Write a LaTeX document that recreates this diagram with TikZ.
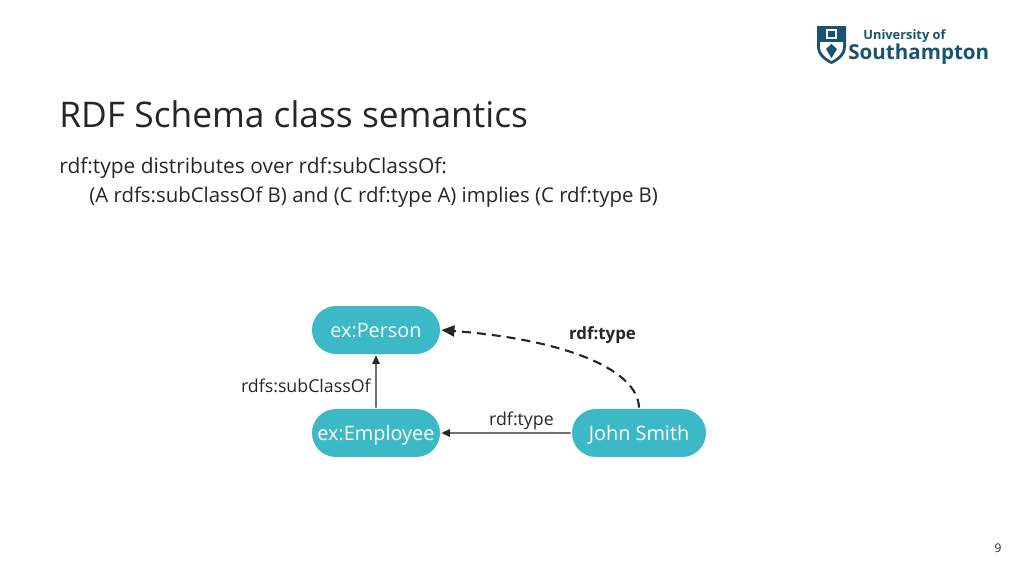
\documentclass[tikz,border=0pt]{standalone}
\usepackage{fontspec}
\setmainfont{Open Sans}
\usetikzlibrary{arrows.meta, positioning, shapes.misc}
\definecolor{nodeteal}{HTML}{3CB9C6}
\definecolor{inkgrey}{HTML}{262626}
\definecolor{sotonblue}{HTML}{1A5370}
\tikzset{
	>={Triangle[length=.085cm,width=.075cm]},
	boldhead/.style={>={Triangle[length=.13cm,width=.11cm]}},
	classnode/.style={rounded rectangle, fill=nodeteal, text=white, inner sep=0pt, minimum height=.48cm, text height=.18cm, text depth=.04cm, font=\fontsize{5.65}{6.5}\selectfont},
	edgelabel/.style={text=inkgrey, inner sep=0pt, font=\fontsize{5.05}{6}\selectfont},
	plaintext/.style={text=inkgrey, inner sep=0pt, anchor=base west}
}
\begin{document}
\begin{tikzpicture}[thick]

		\useasboundingbox (0,0) rectangle (10.24,5.76);
		\fill[white] (0,0) rectangle (10.24,5.76);

		\node[plaintext, font=\fontsize{10.05}{12}\selectfont] (title) at (.58,4.49) {RDF Schema class semantics};
		\node[plaintext, font=\fontsize{5.95}{7}\selectfont] (line1) at (.58,4.03) {rdf:type distributes over rdf:subClassOf:};
		\node[plaintext, font=\fontsize{5.8}{7}\selectfont] (line2) at (.88,3.74) {(A rdfs:subClassOf B) and (C rdf:type A) implies (C rdf:type B)};

		\node[classnode, minimum width=1.28cm] (person) at (3.76,2.46) {ex:Person};
		\node[classnode, minimum width=1.28cm] (employee) at (3.76,1.43) {ex:Employee};
		\node[classnode, minimum width=1.34cm] (john) at (6.39,1.43) {John Smith};

		\draw [->, inkgrey, line width=.4pt] (employee)--(person);
		\draw [->, inkgrey, line width=.4pt] (john)--(employee);
		\draw [->, boldhead, inkgrey, line width=.6pt, dash pattern=on .09cm off .06cm] (john.north) .. controls (6.38,2.05) and (5.7,2.36) .. (person.east);

		\node[edgelabel, anchor=east] (sublabel) at (3.72,1.905) {rdfs:subClassOf};
		\node[edgelabel] (typelabel) at (5.215,1.555) {rdf:type};
		\node[edgelabel, font=\fontsize{4.8}{5.5}\selectfont\bfseries] (inferred) at (6.025,2.405) {rdf:type};

		% logo
		\fill[sotonblue] (8.17,5.5) -- (8.46,5.5) -- (8.46,5.3) .. controls (8.46,5.2) and (8.38,5.15) .. (8.315,5.12) .. controls (8.25,5.15) and (8.17,5.2) .. (8.17,5.3) -- cycle;
		\fill[white] (8.2,5.34) -- (8.43,5.34) -- (8.43,5.3) .. controls (8.43,5.22) and (8.37,5.18) .. (8.315,5.15) .. controls (8.26,5.18) and (8.2,5.22) .. (8.2,5.3) -- cycle;
		\fill[sotonblue] (8.315,5.18) -- (8.37,5.27) -- (8.315,5.32) -- (8.26,5.27) -- cycle;
		\draw[white, line width=.3pt] (8.27,5.38) rectangle (8.36,5.46);
		\node[plaintext, text=sotonblue, font=\fontsize{3.65}{5}\selectfont\bfseries] (logotop) at (8.62,5.37) {University of};
		\node[plaintext, text=sotonblue, font=\fontsize{5.85}{7}\selectfont\bfseries] (logobottom) at (8.47,5.17) {Southampton};

		\node[edgelabel, font=\fontsize{3.4}{4}\selectfont] (pagenum) at (9.98,.28) {9};

\end{tikzpicture}
\end{document}
